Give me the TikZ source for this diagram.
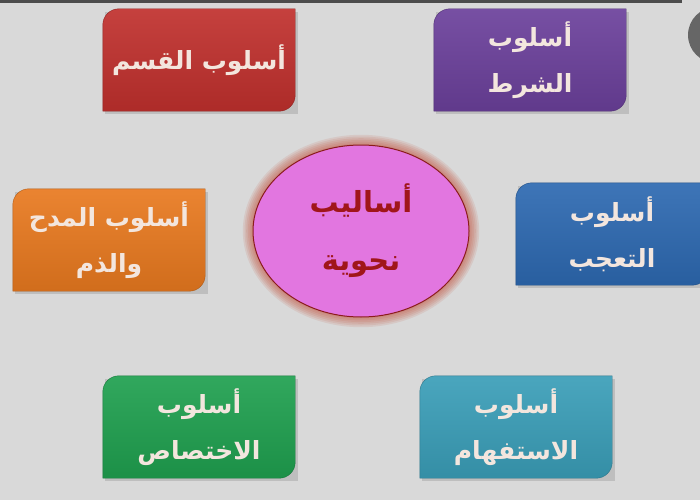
\documentclass[tikz,border=0pt]{standalone}
\usepackage{fontspec}
\newfontfamily\arabicfont[Script=Arabic]{DejaVu Sans}
\TeXXeTstate=1
\usetikzlibrary{positioning}
\usetikzlibrary{shapes.geometric}
\usetikzlibrary{backgrounds}

\definecolor{paper}{HTML}{D9D9D9}
\definecolor{tabtext}{HTML}{F3E6DE}
\definecolor{qasamred}{HTML}{C0302D}
\definecolor{shartpurple}{HTML}{6B409B}
\definecolor{madhorange}{HTML}{E8791F}
\definecolor{taajjubblue}{HTML}{2D69B1}
\definecolor{ikhtisasgreen}{HTML}{1FA04F}
\definecolor{istifhamteal}{HTML}{3A9EB8}
\definecolor{corepink}{HTML}{E276E0}
\definecolor{corerim}{HTML}{8B1C1C}
\definecolor{coreglow}{HTML}{C0402A}
\definecolor{coretext}{HTML}{A0161A}

%tab with round top-left and bottom-right corners
\newcommand\tabshape[2]{%
  \shade[top color=#2!92!white,bottom color=#2!90!black,draw=#2!75!black]
    ([yshift=-16pt]#1.north west) arc[start angle=180,end angle=90,radius=16pt]
    -- (#1.north east) -- ([yshift=16pt]#1.south east)
    arc[start angle=0,end angle=-90,radius=16pt] -- (#1.south west) -- cycle;}

\begin{document}
\begin{tikzpicture}[x=1pt,y=-1pt,
    tab/.style={minimum width=192pt,minimum height=102pt,inner sep=0pt,
                align=center,text=tabtext,
                font=\arabicfont\bfseries\fontsize{25}{46}\selectfont}]

    \useasboundingbox (0,0) rectangle (700,500);

    %the six tabs
    \node[tab] (qasam) at (199,60) {\beginR أسلوب القسم\endR};
    \node[tab] (shart) at (530,60) {\beginR أسلوب\endR\\\beginR الشرط\endR};
    \node[tab] (madh) at (109,240) {\beginR أسلوب المدح\endR\\\beginR والذم\endR};
    \node[tab] (taajjub) at (612,234) {\beginR أسلوب\endR\\\beginR التعجب\endR};
    \node[tab] (ikhtisas) at (199,427) {\beginR أسلوب\endR\\\beginR الاختصاص\endR};
    \node[tab] (istifham) at (516,427) {\beginR أسلوب\endR\\\beginR الاستفهام\endR};

    \begin{scope}[on background layer]
    \fill[paper] (0,0) rectangle (700,500);
    %screen edge
    \fill[black!70] (0,0) rectangle (682,3);
    \fill[black!60] (716,35) circle (28pt);
    \foreach \n/\c in {qasam/qasamred,shart/shartpurple,madh/madhorange,
                       taajjub/taajjubblue,ikhtisas/ikhtisasgreen,
                       istifham/istifhamteal}{
        \fill[black,opacity=.12] ([shift={(2pt,-3pt)}]\n.south west)
            rectangle ([shift={(3pt,-3pt)}]\n.north east);
        \tabshape{\n}{\c}
    }
    \end{scope}

    %centre with its glow
    \coordinate (mid) at (361,231);
    \foreach \i in {1,...,6}
        \fill[coreglow,opacity=.11] (mid) ellipse [x radius=108pt+\i*1.7pt,
                                                  y radius=86pt+\i*1.7pt];
    \node[ellipse,fill=corepink,draw=corerim,line width=1pt,
          minimum width=216pt,minimum height=172pt,inner sep=0pt,
          align=center,text=coretext,
          font=\arabicfont\bfseries\fontsize{29}{58}\selectfont]
        (core) at (mid) {\beginR أساليب\endR\\\beginR نحوية\endR};

\end{tikzpicture}
\end{document}
